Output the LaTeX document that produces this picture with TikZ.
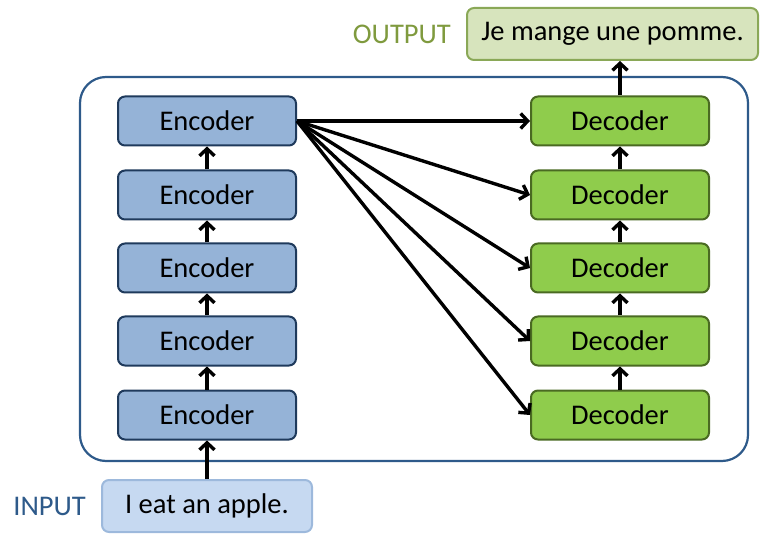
\documentclass[tikz,border=0pt]{standalone}
\usepackage{fontspec}
\setmainfont{Carlito}
\usetikzlibrary{arrows.meta}
\definecolor{frameblue}{HTML}{2E5A8A}
\definecolor{encfill}{HTML}{95B3D7}
\definecolor{encline}{HTML}{1F3A5C}
\definecolor{decfill}{HTML}{8FCC4C}
\definecolor{decline}{HTML}{4A6A22}
\definecolor{outfill}{HTML}{D7E4BD}
\definecolor{outline}{HTML}{8AA857}
\definecolor{infill}{HTML}{C6D9F1}
\definecolor{inline}{HTML}{9DB9DC}
\definecolor{outlabel}{HTML}{7F9A3E}
\definecolor{inlabel}{HTML}{2E5A8A}
\tikzset{
  layer/.style={rounded corners=7pt, line width=2pt, minimum width=178pt,
    minimum height=49pt, inner sep=0pt, font=\fontsize{28.5}{30}\selectfont},
  encbox/.style={layer, fill=encfill, draw=encline},
  decbox/.style={layer, fill=decfill, draw=decline},
  sentbox/.style={rounded corners=7pt, line width=2pt, minimum height=52pt,
    inner sep=0pt, font=\fontsize{28.5}{30}\selectfont},
  tag/.style={font=\fontsize{28.5}{30}\selectfont, inner sep=0pt},
  flow/.style={line width=3.4pt, -{Straight Barb[length=7pt,width=15pt]}}
}
\begin{document}
\begin{tikzpicture}[x=1pt,y=-1pt]
  \useasboundingbox (0,0) rectangle (765,534);
  % outer frame holding both stacks
  \draw[frameblue, line width=2.2pt, rounded corners=26pt] (80,77) rectangle (748,461);
  % encoder and decoder stacks
  \foreach \i/\y in {1/415,2/341,3/268,4/195,5/121}{
    \node[encbox] (enc\i) at (207,\y) {Encoder};
    \node[decbox] (dec\i) at (620,\y) {Decoder};
  }
  % input and output sentences
  \node[sentbox, fill=infill, draw=inline, minimum width=210pt] (inp) at (207,506) {I eat an apple.};
  \node[tag, text=inlabel, anchor=east] (inlab) at (86,506) {INPUT};
  \node[sentbox, fill=outfill, draw=outline, minimum width=291pt] (outp) at (612.5,34) {Je mange une pomme.};
  \node[tag, text=outlabel, anchor=east] (outlab) at (451,34) {OUTPUT};
  % vertical connections
  \draw[flow] (inp.north) -- (enc1.south);
  \foreach \a/\b in {1/2,2/3,3/4,4/5}{
    \draw[flow] (enc\a.north) -- (enc\b.south);
    \draw[flow] (dec\a.north) -- (dec\b.south);
  }
  \draw[flow] (dec5.north) -- (dec5.north |- outp.south);
  % top encoder feeds every decoder
  \foreach \i in {1,...,5}{
    \draw[flow] (enc5.east) -- (dec\i.west);
  }
\end{tikzpicture}
\end{document}
